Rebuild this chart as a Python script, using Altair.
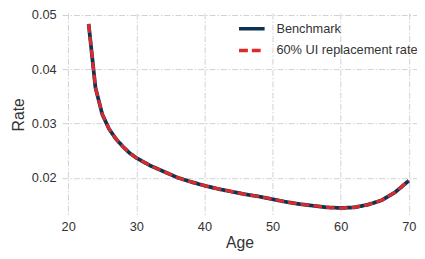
import altair as alt
import pandas as pd

ages = [23, 24, 25, 26, 27, 28, 29, 30, 32, 34, 36, 38, 40, 42, 44, 46, 48, 50,
        52, 54, 56, 58, 60, 62, 64, 66, 68, 70]
benchmark = [0.0483, 0.0366, 0.0317, 0.0290, 0.0272, 0.0258, 0.0246, 0.0237,
             0.0223, 0.0212, 0.0201, 0.0193, 0.0186, 0.0180, 0.0175, 0.0170,
             0.0166, 0.0161, 0.0156, 0.0152, 0.0149, 0.0146, 0.0145, 0.0146,
             0.0151, 0.0159, 0.0174, 0.0195]
ui60 = [0.0483, 0.0366, 0.0317, 0.0290, 0.0272, 0.0258, 0.0246, 0.0237,
        0.0223, 0.0212, 0.0201, 0.0193, 0.0186, 0.0180, 0.0175, 0.0170,
        0.0166, 0.0161, 0.0156, 0.0152, 0.0149, 0.0146, 0.0145, 0.0146,
        0.0151, 0.0159, 0.0174, 0.0195]
series_names = ["Benchmark", "60% UI replacement rate"]
series_colors = ["#0b3352", "#d92b2b"]
x_ticks = [20, 30, 40, 50, 60, 70]
y_ticks = [0.02, 0.03, 0.04, 0.05]

df = pd.DataFrame(
    {"Age": ages * 2,
     "Rate": benchmark + ui60,
     "Series": [series_names[0]] * len(ages) + [series_names[1]] * len(ages)}
)

FONT = "Liberation Sans"

color_scale = alt.Scale(domain=series_names, range=series_colors)
dash_scale = alt.Scale(domain=series_names, range=[[1, 0], [9, 4]])

legend = alt.Legend(
    title=None, orient="none", legendX=178, legendY=1,
    symbolType="stroke", symbolSize=676, symbolStrokeWidth=3.5,
    labelFont=FONT, labelFontSize=13, labelColor="#333333",
    labelOffset=10, rowPadding=-7, padding=0,
)

x = alt.X("Age:Q", scale=alt.Scale(domain=[19.1, 71.2], nice=False, zero=False),
          axis=alt.Axis(values=x_ticks, title="Age", format="d"))
y = alt.Y("Rate:Q", scale=alt.Scale(domain=[0.0131, 0.0503], nice=False, zero=False),
          axis=alt.Axis(values=y_ticks, title="Rate", format=".2f"))

base = alt.Chart(df)

bench = base.transform_filter(alt.datum.Series == series_names[0]).mark_line(
    strokeWidth=3.8).encode(
    x=x, y=y,
    color=alt.Color("Series:N", scale=color_scale, legend=legend),
    strokeDash=alt.StrokeDash("Series:N", scale=dash_scale, legend=legend),
)
ui = base.transform_filter(alt.datum.Series == series_names[1]).mark_line(
    strokeWidth=3.2).encode(
    x=x, y=y,
    color=alt.Color("Series:N", scale=color_scale, legend=legend),
    strokeDash=alt.StrokeDash("Series:N", scale=dash_scale, legend=legend),
)

chart = alt.layer(bench, ui).properties(
    width=361, height=206,
    autosize=alt.AutoSizeParams(type="none"),
    padding={"left": 55, "top": 3, "right": 0, "bottom": 40},
    background="white",
).configure_view(stroke=None).configure_axis(
    grid=True, gridColor="#cccccc", gridWidth=0.9, gridDash=[6, 2, 1.5, 2],
    domain=False, ticks=False,
    labelFont=FONT, labelFontSize=13, labelColor="#333333", labelPadding=6,
    titleFont=FONT, titleFontSize=16, titleFontWeight="normal", titleColor="#333333",
).configure_axisX(titlePadding=1, labelPadding=5).configure_axisY(titlePadding=5)

chart.save("out.html", embed_options={"renderer": "svg", "actions": False})
